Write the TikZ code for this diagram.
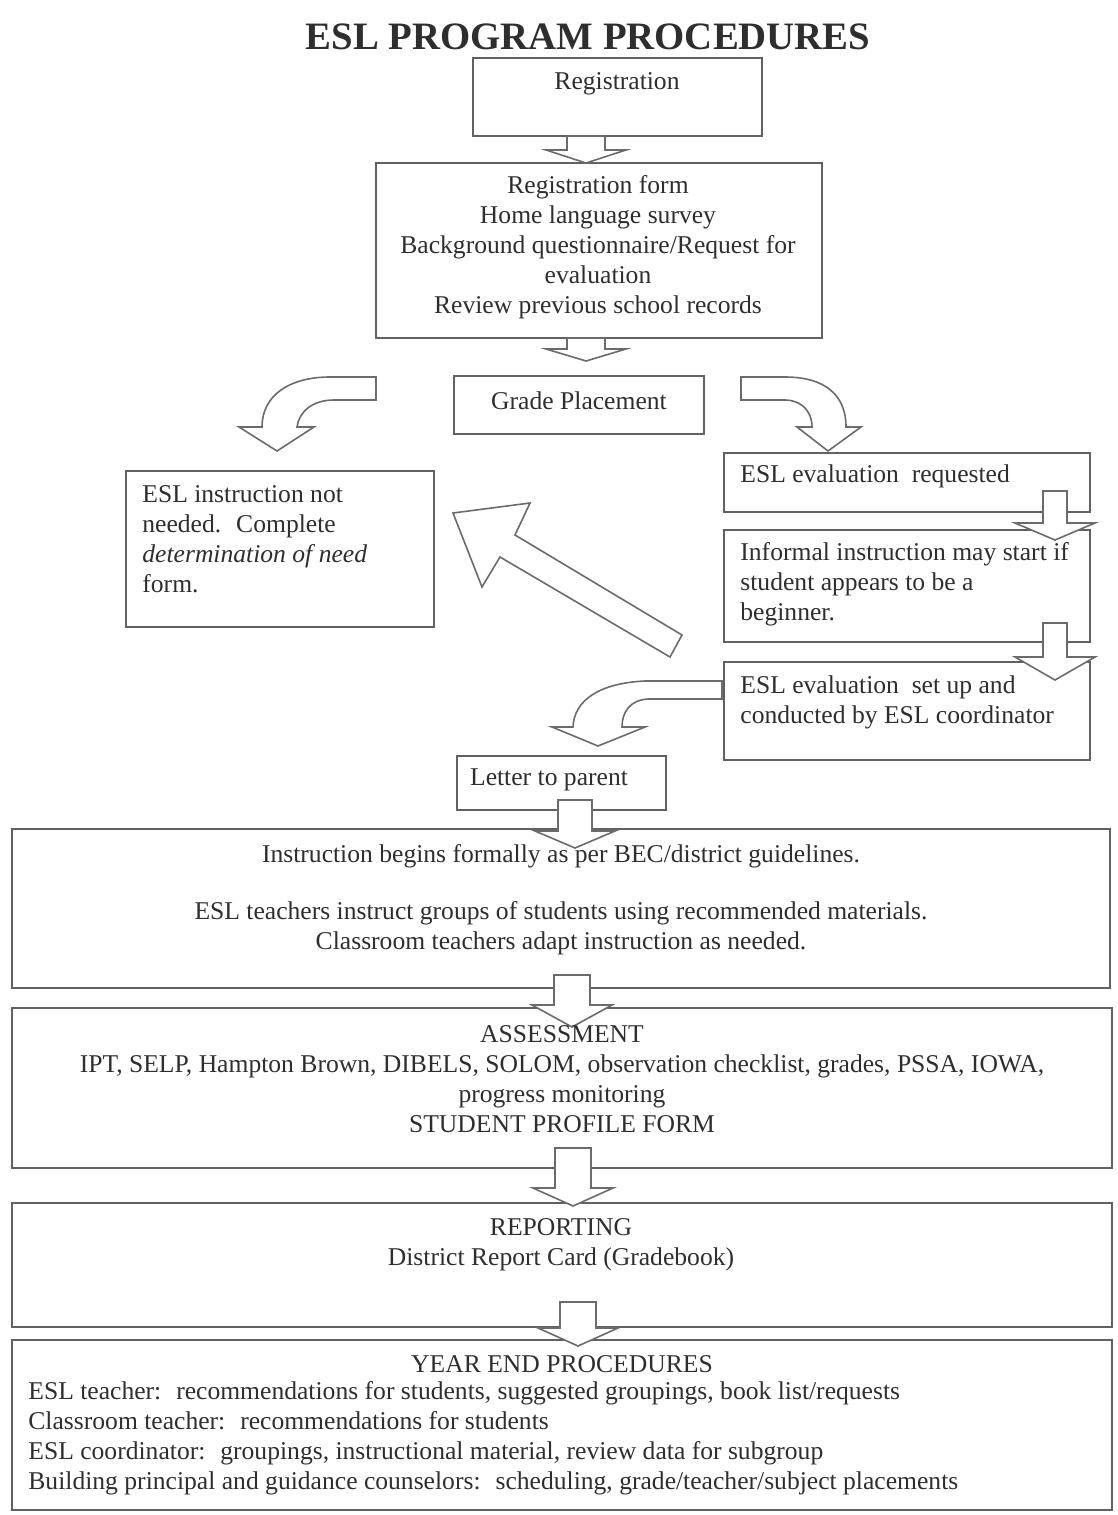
\documentclass[tikz,border=0pt]{standalone}
\usepackage{fontspec}
\setmainfont{Liberation Serif}
\usetikzlibrary{positioning}

\tikzset{
  box/.style={draw=black!62, line width=1pt, inner sep=0pt},
  txt/.style={font=\fontsize{12.8}{15}\selectfont, text=black!82, inner sep=0pt},
  blockarr/.style={draw=black!58, line width=0.8pt, fill=white, line join=miter},
}

% straight block arrow: x, shaft top, head base, tip, half shaft width
\newcommand{\blockdown}[5]{%
  \draw[blockarr] (#1-#5,#2) -- (#1+#5,#2) -- (#1+#5,#3) -- (#1+40,#3)
    -- (#1,#4) -- (#1-40,#3) -- (#1-#5,#3) -- cycle;}

\begin{document}
\begin{tikzpicture}[x=0.5pt,y=-0.5pt]
        \useasboundingbox (0,0) rectangle (1118,1515);

        % Title
        \node[txt, font=\bfseries\fontsize{19.4}{22}\selectfont] (title) at (588,37) {ESL PROGRAM PROCEDURES};

        % Boxes
        \node[box, minimum width=144.5pt, minimum height=39pt] (reg) at (617.5,97) {};
        \node[box, minimum width=223pt, minimum height=87.5pt] (forms) at (599,250.5) {};
        \node[box, minimum width=125pt, minimum height=29pt] (grade) at (579,405) {};
        \node[box, minimum width=154pt, minimum height=78pt] (notneeded) at (280,549) {};
        \node[box, minimum width=183pt, minimum height=29.5pt] (requested) at (907,482.5) {};
        \node[box, minimum width=183pt, minimum height=56pt] (informal) at (907,586) {};
        \node[box, minimum width=183pt, minimum height=49pt] (setup) at (907,711) {};
        \node[box, minimum width=104.5pt, minimum height=27pt] (letter) at (561.5,783) {};
        \node[box, minimum width=549pt, minimum height=79.5pt] (instr) at (561,908.5) {};
        \node[box, minimum width=550pt, minimum height=80pt] (assess) at (562,1088) {};
        \node[box, minimum width=550pt, minimum height=62pt] (report) at (562,1265) {};
        \node[box, minimum width=550pt, minimum height=85pt] (yearend) at (562,1425) {};

        % Draw arrows
        \blockdown{586}{136}{150}{163}{19}
        \blockdown{586}{338}{349}{361}{19}
        \blockdown{1055}{491}{523}{540}{12}
        \blockdown{1055}{623}{657}{680}{12}
        \blockdown{575}{800}{831}{848}{17}
        \blockdown{572}{975}{1005}{1027}{18}
        \blockdown{573}{1148}{1188}{1206}{18}
        \blockdown{578}{1302}{1328}{1346}{18}

        % curved arrows out of grade placement
        \draw[blockarr] (376,377) -- (330,377) .. controls (290,377) and (262,395) .. (262,427)
          -- (239,427) -- (277,451) -- (314,427) -- (297,427)
          .. controls (299,412) and (312,400) .. (334,400) -- (376,400) -- cycle;
        \draw[blockarr] (741,377) -- (785,377) .. controls (825,377) and (846,395) .. (846,427)
          -- (861,427) -- (828,451) -- (797,427) -- (812,427)
          .. controls (812,410) and (800,400) .. (785,400) -- (741,400) -- cycle;

        % diagonal arrow back to not needed
        \draw[blockarr] (453,513) -- (530,503) -- (515,535) -- (682,635) -- (670,657)
          -- (500,557) -- (482,587) -- cycle;

        % curved arrow to letter
        \draw[blockarr] (722,681) -- (645,681) .. controls (600,683) and (574,700) .. (573,727)
          -- (552,727) -- (598,746) -- (645,727) -- (622,727)
          .. controls (622,712) and (630,700) .. (648,699) -- (722,699) -- cycle;

        % Texts
        \node[txt] (regtxt) at (617,84) {Registration};
        \node[txt, align=center] (formstxt) at (598,247) {Registration form\\ Home language survey\\
          Background questionnaire/Request for\\ evaluation\\ Review previous school records};
        \node[txt] (gradetxt) at (579,401) {Grade Placement};
        \node[txt, anchor=west, align=left] (notneededtxt) at (142,539) {ESL instruction not\\
          needed.~ Complete\\ \textit{determination of need}\\ form.};
        \node[txt, anchor=west] (requestedtxt) at (740,476) {ESL evaluation~ requested};
        \node[txt, anchor=west, align=left] (informaltxt) at (740,584) {Informal instruction may start if\\
          student appears to be a\\ beginner.};
        \node[txt, anchor=west, align=left] (setuptxt) at (740,702) {ESL evaluation~ set up and\\
          conducted by ESL coordinator};
        \node[txt] (lettertxt) at (549,780) {Letter to parent};
        \node[txt, align=center] (instrtxt) at (561,899.5) {Instruction begins formally as per BEC/district guidelines.\\[13.5pt]
          ESL teachers instruct groups of students using recommended materials.\\
          Classroom teachers adapt instruction as needed.};
        \node[txt, align=center] (assesstxt) at (562,1079) {ASSESSMENT\\
          IPT, SELP, Hampton Brown, DIBELS, SOLOM, observation checklist, grades, PSSA, IOWA,\\
          progress monitoring\\ STUDENT PROFILE FORM};
        \node[txt, align=center] (reporttxt) at (561,1244.5) {REPORTING\\ District Report Card (Gradebook)};
        \node[txt] (yeartitle) at (562,1364) {YEAR END PROCEDURES};
        \node[txt, anchor=west, align=left] (yeartxt) at (28,1438) {ESL teacher:~ recommendations for students, suggested groupings, book list/requests\\
          Classroom teacher:~ recommendations for students\\
          ESL coordinator:~ groupings, instructional material, review data for subgroup\\
          Building principal and guidance counselors:~ scheduling, grade/teacher/subject placements};
\end{tikzpicture}
\end{document}
